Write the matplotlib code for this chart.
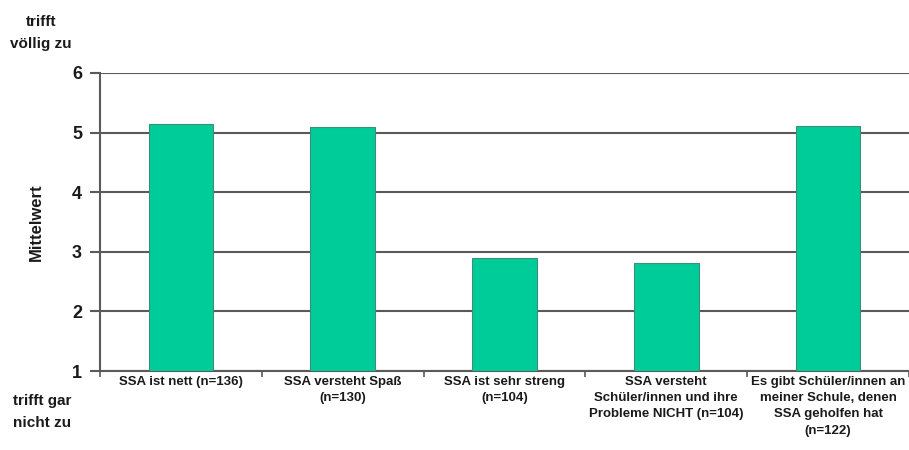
import matplotlib
matplotlib.use("Agg")
import matplotlib.pyplot as plt
import numpy as np

plt.rcParams['font.family'] = ['Liberation Sans', 'DejaVu Sans']
plt.rcParams['font.weight'] = 'bold'

categories = [
    "SSA ist nett (n=136)",
    "SSA versteht Spaß\n(n=130)",
    "SSA ist sehr streng\n(n=104)",
    "SSA versteht\nSchüler/innen und ihre\nProbleme NICHT (n=104)",
    "Es gibt Schüler/innen an\nmeiner Schule, denen\nSSA geholfen hat\n(n=122)",
]
means = [5.15, 5.10, 2.90, 2.81, 5.11]
y_ticks = [1, 2, 3, 4, 5, 6]

bar_color = "#00CC99"
edge_color = "#3a8f74"
grid_color = "#5a5a5a"
text_color = "#1a1a1a"

fig = plt.figure(figsize=(9.09, 4.5), dpi=100)
ax = fig.add_axes([100 / 909, 1 - 371 / 450, 809 / 909, (371 - 73) / 450])

x = np.arange(len(categories))
ax.bar(x, [m - 1 for m in means], bottom=1, width=0.40,
       color=bar_color, edgecolor=edge_color, linewidth=0.8, zorder=3)

ax.set_xlim(-0.5, len(categories) - 0.5)
ax.set_ylim(1, 6)
ax.set_yticks(y_ticks)
ax.set_yticklabels([str(t) for t in y_ticks], fontsize=13, fontweight='bold',
                   color=text_color)
ax.yaxis.grid(True, color=grid_color, linewidth=1.5, zorder=0)
ax.set_axisbelow(True)

# category labels placed below each bar, ticks at category boundaries
ax.set_xticks(np.arange(-0.5, len(categories)), minor=False)
ax.set_xticklabels([])
ax.tick_params(axis='x', which='major', direction='out', length=4,
               width=1.2, color=grid_color)
ax.tick_params(axis='y', direction='out', length=7, width=1.5,
               color=grid_color, pad=6)
for xi, lab in zip(x, categories):
    ax.text(xi, 0.91, lab, ha='center', va='top', fontsize=9.5,
            fontweight='bold', color=text_color, linespacing=1.45,
            transform=ax.transData, clip_on=False)

for side in ['top', 'right']:
    ax.spines[side].set_visible(False)
ax.spines['left'].set_color(grid_color)
ax.spines['left'].set_linewidth(1.5)
ax.spines['bottom'].set_color(grid_color)
ax.spines['bottom'].set_linewidth(1.5)

ax.set_ylabel("Mittelwert", fontsize=12, fontweight='bold', color=text_color,
              labelpad=20)

fig.text(41 / 909, 1 - 33 / 450, "trifft\nvöllig zu", ha='center', va='center',
         fontsize=11, fontweight='bold', color=text_color, linespacing=1.7)
fig.text(13 / 909, 1 - 412 / 450, "trifft gar\nnicht zu", ha='left',
         va='center', fontsize=11, fontweight='bold', color=text_color,
         linespacing=1.7)

fig.savefig("out.png", dpi=100)
